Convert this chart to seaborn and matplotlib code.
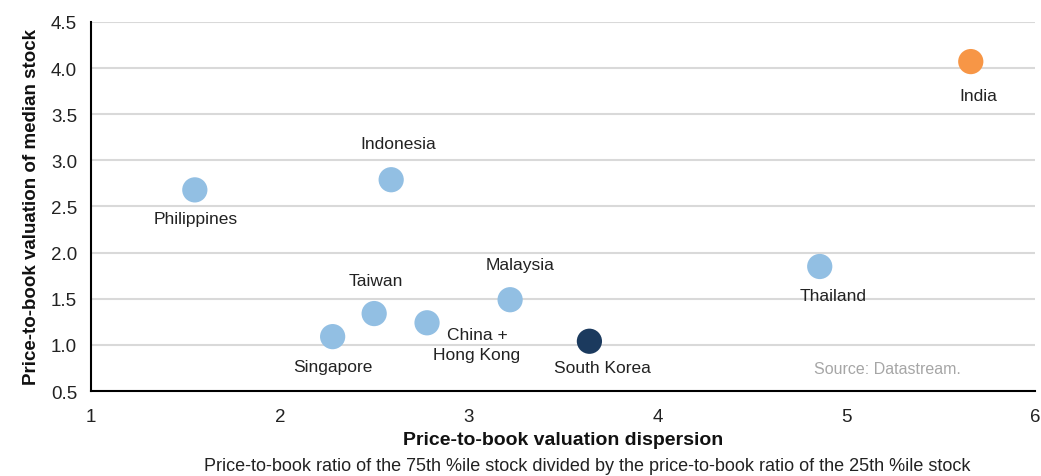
import matplotlib
matplotlib.use("Agg")
import matplotlib.pyplot as plt
import seaborn as sns
import pandas as pd

# --- Data ---
countries = ['India', 'Thailand', 'Philippines', 'Indonesia', 'Malaysia',
             'Taiwan', 'China +\nHong Kong', 'Singapore', 'South Korea']
dispersion = [5.66, 4.86, 1.55, 2.59, 3.22, 2.50, 2.78, 2.28, 3.64]
median_pb = [4.07, 1.85, 2.68, 2.79, 1.49, 1.34, 1.24, 1.09, 1.04]
group = ['India', 'Other', 'Other', 'Other', 'Other',
         'Other', 'Other', 'Other', 'South Korea']

# label offsets in pixels (dx, dy), dy positive = downwards
label_offsets = [(8, 34), (13, 29), (1, 29), (7, -36), (10, -35),
                 (2, -33), (50, 22), (0, 30), (13, 26)]

palette = {'Other': '#92BFE3', 'India': '#F79646', 'South Korea': '#1B3A5E'}

df = pd.DataFrame({'country': countries, 'dispersion': dispersion,
                   'median_pb': median_pb, 'group': group})

# --- Style ---
sns.set_theme(style='white')
plt.rcParams['font.family'] = ['Liberation Sans', 'DejaVu Sans']

fig = plt.figure(figsize=(10.41, 4.77), dpi=100)
ax = fig.add_axes([0.0874, 0.178, 0.9068, 0.774])

sns.scatterplot(data=df, x='dispersion', y='median_pb', hue='group',
                palette=palette, s=330, edgecolor='none', legend=False,
                ax=ax, zorder=3)

for name, x, y, (dx, dy) in zip(countries, dispersion, median_pb, label_offsets):
    ax.annotate(name, (x, y), xytext=(dx * 0.72, -dy * 0.72),
                textcoords='offset points', ha='center', va='center',
                fontsize=12.5, color='#222222', linespacing=1.45)

ax.set_xlim(1, 6)
ax.set_ylim(0.5, 4.5)
ax.set_xticks([1, 2, 3, 4, 5, 6])
ax.set_yticks([0.5, 1.0, 1.5, 2.0, 2.5, 3.0, 3.5, 4.0, 4.5])
ax.set_yticklabels([f'{v:.1f}' for v in ax.get_yticks()])
ax.yaxis.grid(True, color='#D9D9D9', linewidth=1.5)
ax.set_axisbelow(True)

for side in ['top', 'right']:
    ax.spines[side].set_visible(False)
for side in ['left', 'bottom']:
    ax.spines[side].set_color('black')
    ax.spines[side].set_linewidth(1.5)
ax.tick_params(axis='both', direction='out', length=6, width=1.2,
               color='black', labelsize=13.5, labelcolor='#222222', pad=4)
ax.tick_params(axis='x', pad=6)

ax.set_xlabel('')
ax.set_ylabel('Price-to-book valuation of median stock', fontsize=13.5,
              fontweight='bold', color='#111111', labelpad=8)

fig.text(0.541, 0.077, 'Price-to-book valuation dispersion', ha='center',
         va='center', fontsize=14, fontweight='bold', color='#111111')
fig.text(0.564, 0.022, 'Price-to-book ratio of the 75th %ile stock divided by '
         'the price-to-book ratio of the 25th %ile stock', ha='center',
         va='center', fontsize=13, color='#222222')
ax.text(0.921, 0.06, 'Source: Datastream.', transform=ax.transAxes,
        ha='right', va='center', fontsize=11.5, color='#A6A6A6')

fig.savefig('out.png', dpi=100)
